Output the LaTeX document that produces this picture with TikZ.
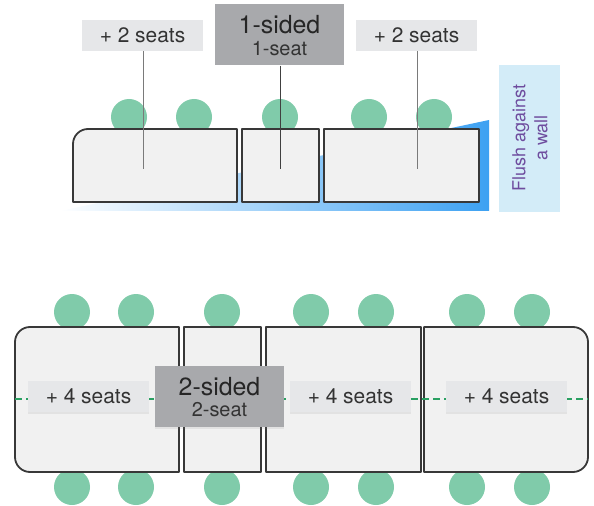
\documentclass[tikz,border=0pt]{standalone}
\usepackage{fontspec}
\setmainfont{TeX Gyre Heros}
\usetikzlibrary{shadows}
\definecolor{seat}{HTML}{80CBAA}
\definecolor{tablefill}{HTML}{F1F1F1}
\definecolor{tableline}{HTML}{383838}
\definecolor{labelfill}{HTML}{E6E7E9}
\definecolor{darkfill}{HTML}{A8A9AC}
\definecolor{txt}{HTML}{333333}
\definecolor{wallfill}{HTML}{D3ECF8}
\definecolor{walltxt}{HTML}{6E4C9E}
\definecolor{wallblue}{HTML}{3DA1F2}
\definecolor{dashgreen}{HTML}{2AA062}
\definecolor{leader}{HTML}{7A7A7A}
\tikzset{
  seatdot/.style={fill=seat, draw=none},
  tbl/.style={fill=tablefill, draw=tableline, line width=1.4bp, line join=round},
  roundtbl/.style={tbl, line width=1.8bp},
  seatlabel/.style={fill=labelfill, draw=none, minimum width=121bp, minimum height=31bp, inner sep=0pt, text=txt, font=\fontsize{21}{24}\selectfont},
  sidebox/.style={fill=darkfill, draw=none, minimum width=129bp, minimum height=61bp, inner sep=0pt},
  bigtxt/.style={inner sep=0pt, text=black!85, font=\fontsize{25}{28}\selectfont},
  smalltxt/.style={inner sep=0pt, text=txt, font=\fontsize{20}{23}\selectfont},
  shad/.style={drop shadow={opacity=0.13, shadow xshift=0pt, shadow yshift=-2.5pt}},
  leaderline/.style={draw=leader, line width=0.8bp},
}
\begin{document}
\begin{tikzpicture}[x=1bp, y=-1bp]
\useasboundingbox (0,0) rectangle (594,506);

% ---------- top: 1-sided ----------
\shade[left color=white, right color=wallblue] (60,211) -- (489,120) -- (489,211) -- cycle;

\foreach \x in {129,194,280,369,434}
  \fill[seatdot] (\x,117) circle (18);

\draw[roundtbl] (73,202) -- (73,144) arc[start angle=180, end angle=270, radius=15] -- (237,129) -- (237,202) -- cycle;
\draw[tbl] (242,129) rectangle (319,202);
\draw[tbl] (324,129) rectangle (479,202);

\node[seatlabel] (tl) at (142.5,35.5) {+ 2 seats};
\node[sidebox] (one) at (279.5,35) {};
\node[bigtxt] (onet) at (279.5,24.5) {1-sided};
\node[smalltxt] (ones) at (279.5,48.5) {1-seat};
\node[seatlabel] (tr) at (416.5,35.5) {+ 2 seats};

\coordinate (e1) at (143,169);
\coordinate (e2) at (280,169);
\coordinate (e3) at (417,169);
\draw[leaderline] (tl.south -| e1) -- (e1);
\draw[leaderline, draw=black!75] (one.south -| e2) -- (e2);
\draw[leaderline] (tr.south -| e3) -- (e3);

\fill[wallfill] (499,65) rectangle (560,212);
\node[rotate=90, text=walltxt, align=center, font=\fontsize{18}{22}\selectfont] (wall) at (530,138) {Flush against\\a wall};

% ---------- bottom: 2-sided ----------
\foreach \x in {72,136,222,311,376,467,532} {
  \fill[seatdot] (\x,312) circle (18);
  \fill[seatdot] (\x,487) circle (18);
}

\draw[roundtbl] (179,327) -- (30,327) arc[start angle=270, end angle=180, radius=15] -- (15,457) arc[start angle=180, end angle=90, radius=15] -- (179,472) -- cycle;
\draw[tbl] (184,327) rectangle (261,472);
\draw[tbl] (266,327) rectangle (421,472);
\draw[roundtbl] (424,327) -- (573,327) arc[start angle=270, end angle=360, radius=15] -- (588,457) arc[start angle=0, end angle=90, radius=15] -- (424,472) -- cycle;

\coordinate (gl) at (15,399);
\coordinate (gr) at (588,399);
\draw[dashgreen, line width=1.2bp, dash pattern=on 7bp off 4bp] (gl) -- (gr);

\node[seatlabel, shad] (b1) at (88.5,396.5) {+ 4 seats};
\node[seatlabel, shad] (b2) at (350.5,396.5) {+ 4 seats};
\node[seatlabel, shad] (b3) at (506.5,396.5) {+ 4 seats};
\node[sidebox, shad] (two) at (219.5,396.5) {};
\node[bigtxt] (twot) at (219.5,386.5) {2-sided};
\node[smalltxt] (twos) at (219.5,410) {2-seat};
\end{tikzpicture}
\end{document}
